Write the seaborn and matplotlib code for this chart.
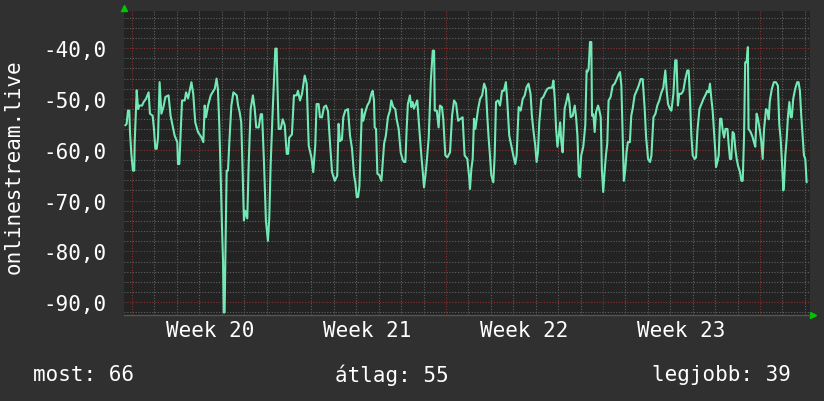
import matplotlib
matplotlib.use("Agg")
import matplotlib.pyplot as plt
import matplotlib.transforms as mtrans
import seaborn as sns
import pandas as pd
import numpy as np

# ---- data ----
days = [
    -0.30, -0.24, -0.18, -0.12, -0.09, -0.03, 0.04, 0.10, 0.12, 0.21, 0.27, 0.33, 0.45, 0.52, 0.62, 0.74,
    0.80, 0.92, 0.98, 1.04, 1.10, 1.16, 1.23, 1.31, 1.40, 1.49, 1.63, 1.72, 1.81, 1.90, 2.02, 2.05,
    2.11, 2.17, 2.23, 2.35, 2.41, 2.50, 2.65, 2.73, 2.82, 2.94, 3.09, 3.18, 3.24, 3.30, 3.39, 3.51,
    3.63, 3.69, 3.77, 3.83, 3.89, 3.95, 4.01, 4.06, 4.09, 4.13, 4.16, 4.22, 4.28, 4.34, 4.43, 4.52,
    4.67, 4.73, 4.80, 4.87, 4.93, 4.99, 5.05, 5.14, 5.20, 5.29, 5.39, 5.47, 5.54, 5.65, 5.74, 5.80,
    5.89, 5.97, 6.06, 6.12, 6.18, 6.27, 6.33, 6.39, 6.45, 6.48, 6.54, 6.63, 6.72, 6.81, 6.90, 6.96,
    7.01, 7.13, 7.22, 7.34, 7.40, 7.49, 7.58, 7.70, 7.79, 7.88, 8.00, 8.08, 8.17, 8.23, 8.32, 8.38,
    8.47, 8.56, 8.65, 8.74, 8.83, 8.92, 9.04, 9.15, 9.21, 9.27, 9.36, 9.42, 9.51, 9.63, 9.72, 9.81,
    9.90, 9.96, 10.02, 10.08, 10.14, 10.20, 10.25, 10.31, 10.40, 10.49, 10.58, 10.67, 10.73, 10.79, 10.82, 10.88,
    10.94, 11.03, 11.12, 11.18, 11.24, 11.32, 11.41, 11.50, 11.56, 11.65, 11.74, 11.80, 11.89, 11.98, 12.07, 12.13,
    12.19, 12.24, 12.30, 12.39, 12.45, 12.51, 12.57, 12.66, 12.72, 12.81, 12.90, 12.96, 13.02, 13.08, 13.14, 13.23,
    13.32, 13.41, 13.47, 13.50, 13.59, 13.67, 13.73, 13.82, 13.88, 13.97, 14.06, 14.18, 14.27, 14.36, 14.45, 14.54,
    14.62, 14.74, 14.83, 14.95, 15.04, 15.07, 15.13, 15.19, 15.25, 15.31, 15.37, 15.43, 15.52, 15.61, 15.70, 15.78,
    15.84, 15.90, 15.96, 16.02, 16.11, 16.17, 16.23, 16.32, 16.41, 16.50, 16.58, 16.67, 16.73, 16.82, 16.91, 17.00,
    17.09, 17.15, 17.24, 17.33, 17.42, 17.51, 17.59, 17.68, 17.77, 17.83, 17.89, 17.98, 18.04, 18.10, 18.16, 18.25,
    18.34, 18.43, 18.52, 18.61, 18.73, 18.79, 18.85, 18.91, 18.97, 19.03, 19.09, 19.14, 19.20, 19.29, 19.38, 19.44,
    19.50, 19.56, 19.65, 19.74, 19.80, 19.86, 19.92, 19.97, 20.03, 20.12, 20.21, 20.27, 20.30, 20.36, 20.42, 20.48,
    20.51, 20.57, 20.63, 20.69, 20.78, 20.84, 20.90, 20.95, 21.01, 21.07, 21.13, 21.19, 21.25, 21.34, 21.43, 21.52,
    21.61, 21.70, 21.76, 21.82, 21.88, 21.93, 21.99, 22.05, 22.11, 22.20, 22.26, 22.32, 22.41, 22.50, 22.59, 22.68,
    22.77, 22.86, 22.92, 23.01, 23.10, 23.16, 23.25, 23.34, 23.42, 23.51, 23.60, 23.69, 23.78, 23.84, 23.90, 23.99,
    24.05, 24.14, 24.22, 24.28, 24.34, 24.40, 24.49, 24.58, 24.67, 24.76, 24.82, 24.88, 24.94, 25.00, 25.09, 25.15,
    25.21, 25.30, 25.39, 25.48, 25.56, 25.65, 25.71, 25.77, 25.83, 25.89, 25.95, 26.01, 26.04, 26.10, 26.16, 26.22,
    26.28, 26.34, 26.40, 26.46, 26.55, 26.60, 26.66, 26.72, 26.78, 26.84, 26.90, 26.96, 27.02, 27.11, 27.17, 27.23,
    27.29, 27.34, 27.40, 27.46, 27.49, 27.58, 27.67, 27.73, 27.79, 27.85, 27.91, 28.00, 28.06, 28.12, 28.18, 28.27,
    28.33, 28.39, 28.44, 28.53, 28.62, 28.71, 28.80, 28.86, 28.92, 28.98, 29.04, 29.07, 29.13, 29.19, 29.25, 29.31,
    29.37, 29.42, 29.48, 29.57, 29.66, 29.72, 29.78, 29.84, 29.90, 29.96, 30.02, 30.08,
]
signal = [
    -55.2, -54.9, -52.3, -52.3, -56.5, -60.8, -64.1, -64.1, -58.5, -48.3, -52.0, -51.3, -51.3, -50.6, -50.0, -48.7,
    -52.9, -53.3, -55.9, -59.8, -59.8, -57.6, -46.7, -52.9, -51.6, -49.6, -49.3, -53.3, -55.2, -57.2, -58.5, -62.8,
    -62.8, -56.5, -50.3, -50.3, -48.7, -49.9, -46.7, -49.0, -54.6, -56.5, -57.5, -58.5, -51.3, -53.6, -51.3, -49.3,
    -48.4, -48.0, -46.0, -48.0, -54.9, -64.4, -74.9, -82.1, -92.0, -92.0, -82.1, -64.1, -64.1, -58.5, -51.3, -48.7,
    -49.3, -51.3, -52.6, -54.6, -63.8, -73.9, -72.0, -73.5, -63.1, -52.0, -49.3, -51.9, -55.6, -55.6, -53.0, -53.0,
    -63.1, -73.9, -77.9, -73.5, -63.1, -52.6, -46.4, -40.1, -40.1, -46.7, -55.9, -55.9, -54.0, -55.2, -60.8, -60.8,
    -57.6, -57.0, -49.3, -49.3, -48.4, -50.3, -49.0, -45.4, -47.0, -59.2, -61.5, -64.4, -59.2, -51.0, -51.0, -53.6,
    -53.6, -51.6, -51.3, -52.4, -58.8, -64.4, -66.1, -65.1, -54.9, -58.3, -58.0, -53.6, -52.3, -52.0, -57.2, -59.8,
    -65.0, -66.5, -69.3, -69.3, -67.2, -58.8, -52.0, -54.3, -52.6, -51.3, -50.6, -49.0, -48.4, -50.3, -55.6, -55.9,
    -64.7, -65.0, -66.1, -62.4, -58.8, -57.2, -53.6, -52.3, -50.3, -51.6, -52.0, -54.0, -55.9, -60.5, -62.0, -62.4,
    -62.4, -56.5, -51.0, -49.3, -51.6, -50.6, -51.9, -50.9, -50.3, -55.9, -61.1, -64.1, -67.4, -65.1, -62.4, -57.6,
    -46.7, -40.5, -40.5, -52.3, -52.3, -55.6, -51.3, -51.6, -54.0, -61.1, -61.5, -60.5, -53.3, -50.3, -50.9, -54.3,
    -54.0, -53.6, -61.1, -61.8, -65.7, -67.7, -63.8, -61.8, -53.9, -55.9, -54.0, -52.0, -50.0, -49.3, -47.0, -48.0,
    -53.3, -57.6, -61.1, -65.0, -66.4, -61.1, -50.6, -50.3, -51.3, -48.4, -48.4, -46.7, -50.3, -57.2, -59.2, -61.1,
    -62.8, -61.1, -51.6, -52.3, -50.0, -49.3, -47.7, -47.0, -49.0, -53.3, -55.9, -59.2, -62.4, -60.5, -54.6, -50.0,
    -49.6, -48.7, -48.0, -47.8, -47.8, -46.4, -50.0, -55.9, -59.4, -57.2, -54.6, -58.4, -60.5, -51.9, -50.3, -49.0,
    -50.6, -53.6, -53.3, -51.3, -53.6, -57.2, -65.0, -65.4, -61.1, -59.4, -55.2, -44.4, -44.7, -44.1, -38.8, -38.8,
    -53.3, -53.0, -56.5, -52.6, -51.3, -52.3, -53.6, -63.8, -68.3, -64.4, -61.1, -58.8, -50.3, -49.6, -47.4, -47.0,
    -46.1, -45.1, -44.7, -47.4, -57.6, -66.1, -64.1, -60.5, -58.5, -58.5, -53.3, -52.0, -49.3, -48.4, -47.4, -46.1,
    -46.1, -52.0, -57.4, -61.8, -62.4, -61.1, -53.6, -52.9, -51.3, -50.3, -48.8, -47.8, -44.4, -48.4, -51.0, -52.0,
    -52.3, -49.0, -42.4, -42.4, -51.3, -49.0, -49.0, -48.4, -46.1, -44.4, -44.4, -50.0, -57.2, -61.1, -61.8, -61.5,
    -56.3, -52.0, -51.0, -50.0, -49.3, -48.4, -48.7, -47.0, -49.9, -52.3, -56.5, -60.5, -63.4, -62.4, -61.1, -53.9,
    -53.9, -56.3, -57.6, -55.9, -55.9, -58.8, -61.8, -61.8, -56.5, -56.8, -59.8, -61.8, -63.1, -64.4, -66.1, -66.1,
    -57.2, -42.8, -42.8, -39.8, -55.9, -56.5, -57.5, -58.5, -59.4, -52.9, -53.9, -56.3, -58.5, -61.8, -56.0, -52.0,
    -52.3, -54.0, -50.3, -48.0, -46.7, -46.7, -47.4, -55.0, -57.8, -62.4, -68.0, -67.0, -61.1, -57.8, -53.3, -50.6,
    -53.6, -53.6, -50.0, -48.0, -46.7, -46.7, -48.4, -53.3, -57.2, -61.1, -61.8, -66.4,
]
week_starts = [0, 7, 14, 21, 28]
week_labels = ["Week 20", "Week 21", "Week 22", "Week 23"]
y_ticks = [-90, -80, -70, -60, -50, -40]
y_label = "onlinestream.live"
summary_labels = ["most: 66", "átlag: 55", "legjobb: 39"]

df = pd.DataFrame({"day": days, "value": signal})

# ---- style ----
BG = "#303030"
PLOT_BG = "#232323"
LINE = "#72e8b4"
MINOR = "#606060"
MAJOR = "#8c2e2e"
TXT = "#ffffff"
FS = 15

sns.set_theme(style="dark")
plt.rcParams["font.family"] = ["DejaVu Sans Mono", "DejaVu Sans"]

fig = plt.figure(figsize=(8.24, 4.02), dpi=100, facecolor=BG)
ax = fig.add_axes([124 / 824, 1 - 316 / 402, (810 - 124) / 824, (316 - 12) / 402])
ax.set_facecolor(PLOT_BG)

sns.lineplot(data=df, x="day", y="value", ax=ax, color=LINE, linewidth=1.5,
             estimator=None, sort=False, zorder=5)

ax.set_xlim(-0.357, 30.23)
ax.set_ylim(-92.5, -32.7)

# grids
ax.set_xticks(week_starts)
ax.set_xticks(np.arange(0, 31, 1), minor=True)
ax.set_yticks(y_ticks)
ax.set_yticks(np.arange(-92, -32, 2), minor=True)
ax.grid(which="minor", color=MINOR, linestyle=(0, (1, 1.5)), linewidth=0.8, zorder=1)
ax.grid(which="major", color=MAJOR, linestyle=(0, (1, 1.5)), linewidth=0.8, zorder=2)
ax.set_axisbelow(True)

ax.set_xticklabels([""] * len(week_starts))
ax.set_yticklabels([f"{v:.1f}".replace(".", ",") for v in y_ticks],
                   color=TXT, fontsize=FS)
ax.tick_params(axis="y", which="both", length=0, pad=12.5)
ax.tick_params(axis="x", which="major", length=3, color=MAJOR, direction="out")
ax.tick_params(axis="x", which="minor", length=2, color=MINOR, direction="out")

ax.set_xlabel("")
ax.set_ylabel("")

for s in ["top", "right", "left"]:
    ax.spines[s].set_visible(False)
ax.spines["bottom"].set_color("#555555")
ax.spines["bottom"].set_linewidth(1.0)

# week labels between the week boundaries
trans = mtrans.blended_transform_factory(ax.transData, ax.transAxes)
for i, lab in enumerate(week_labels):
    mid = (week_starts[i] + week_starts[i + 1]) / 2
    ax.text(mid, -0.05, lab, transform=trans, ha="center", va="center",
            color=TXT, fontsize=FS)

# axis arrows
ax.plot([0], [1.01], marker="^", color="#00c800", markersize=5,
        transform=ax.transAxes, clip_on=False)
ax.plot([1.004], [0], marker=">", color="#00c800", markersize=5,
        transform=ax.transAxes, clip_on=False)

# vertical label
fig.text(14 / 824, 1 - 167 / 402, y_label, rotation=90, ha="center", va="center",
         color=TXT, fontsize=FS)

# summary line
fig.text(33 / 824, 1 - 375 / 402, summary_labels[0], ha="left", va="center", color=TXT, fontsize=FS)
fig.text(392 / 824, 1 - 375 / 402, summary_labels[1], ha="center", va="center", color=TXT, fontsize=FS)
fig.text(791 / 824, 1 - 375 / 402, summary_labels[2], ha="right", va="center", color=TXT, fontsize=FS)

fig.savefig("out.png", dpi=100, facecolor=BG)
